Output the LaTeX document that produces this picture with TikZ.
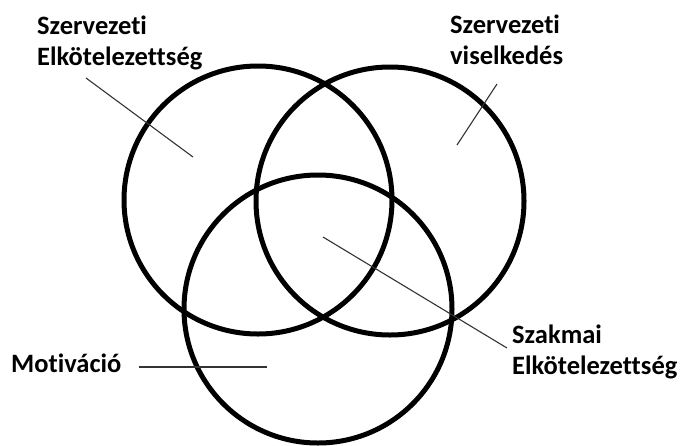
\documentclass[tikz,border=0pt]{standalone}
\usepackage{fontspec}
\setmainfont{Carlito}[Ligatures=NoCommon]
\usetikzlibrary{positioning}
\definecolor{vennInk}{HTML}{000000}
\definecolor{vennLead}{HTML}{333333}

\begin{document}
\begin{tikzpicture}[x=1pt,y=-1pt,
    ring/.style={circle,draw=vennInk,line width=5pt,minimum size=268pt,inner sep=0pt},
    lbl/.style={font=\bfseries\fontsize{26.5}{31}\selectfont,align=left,inner sep=0pt,anchor=base west},
    lead/.style={draw=vennLead,line width=1.1pt}]
  \useasboundingbox (0,0) rectangle (680,445);
  % the three circles
  \node[ring] (orgCommit) at (258,200) {};
  \node[ring] (orgBehav)  at (390,201) {};
  \node[ring] (motiv)     at (318,309) {};
  % labels (base = last line)
  \node[lbl] (lblOrgCommit)  at (37,65)  {Szervezeti\\Elkötelezettség};
  \node[lbl] (lblOrgBehav)   at (450,64) {Szervezeti\\viselkedés};
  \node[lbl] (lblMotiv)      at (11,372) {Motiváció};
  \node[lbl] (lblProfCommit) at (512,374) {Szakmai\\Elkötelezettség};
  % leader lines
  \coordinate (tipOrgCommit)  at (193,157);
  \coordinate (tipOrgBehav)   at (457,145);
  \coordinate (tipMotiv)      at (267,367);
  \coordinate (tipProfCommit) at (323,237);
  \coordinate (endOrgCommit)  at (86,78);
  \coordinate (endOrgBehav)   at (497,84);
  \coordinate (endMotiv)      at (139,367);
  \coordinate (endProfCommit) at (507,348);
  \path[lead] (endOrgCommit) -- (tipOrgCommit);
  \path[lead] (endOrgBehav) -- (tipOrgBehav);
  \path[lead] (endMotiv) -- (tipMotiv);
  \path[lead] (endProfCommit) -- (tipProfCommit);
\end{tikzpicture}
\end{document}
